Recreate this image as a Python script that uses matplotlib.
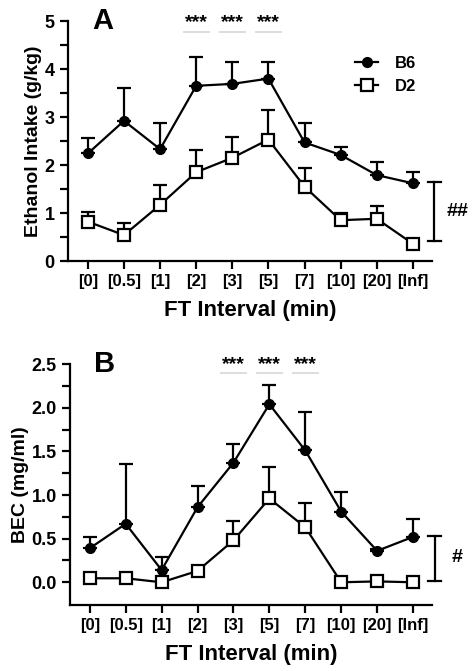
import numpy as np
import matplotlib.pyplot as plt
from matplotlib.lines import Line2D

plt.rcParams['font.family'] = ['Liberation Sans', 'DejaVu Sans']
plt.rcParams['font.weight'] = 'bold'

categories = ['[0]', '[0.5]', '[1]', '[2]', '[3]', '[5]', '[7]', '[10]', '[20]', '[Inf]']

# Panel A - ethanol intake (g/kg), mean and SEM (upper bar only)
intake_b6 = [2.24, 2.92, 2.33, 3.65, 3.69, 3.80, 2.47, 2.21, 1.79, 1.62]
intake_b6_err = [0.33, 0.68, 0.54, 0.59, 0.45, 0.35, 0.40, 0.17, 0.28, 0.23]
intake_d2 = [0.82, 0.54, 1.17, 1.85, 2.15, 2.53, 1.55, 0.85, 0.88, 0.36]
intake_d2_err = [0.21, 0.25, 0.41, 0.47, 0.44, 0.62, 0.39, 0.15, 0.27, 0.10]

# Panel B - blood ethanol concentration (mg/ml)
bec_b6 = [0.39, 0.67, 0.14, 0.86, 1.37, 2.04, 1.51, 0.81, 0.36, 0.52]
bec_b6_err = [0.13, 0.68, 0.15, 0.24, 0.21, 0.22, 0.44, 0.22, 0.02, 0.21]
bec_d2 = [0.046, 0.046, 0.0, 0.13, 0.48, 0.96, 0.63, 0.0, 0.01, 0.0]
bec_d2_err = [0.0, 0.0, 0.0, 0.04, 0.22, 0.36, 0.28, 0.0, 0.0, 0.0]

sig_a = ['[2]', '[3]', '[5]']
sig_b = ['[3]', '[5]', '[7]']

x = np.arange(len(categories))
LW = 1.6


def draw_panel(ax, b6, b6_err, d2, d2_err, ylim, major, minor, ylabel,
               letter, sig, star_y, line_y, brack, brack_txt, txt_y):
    ax.errorbar(x, b6, yerr=[np.zeros(len(b6)), b6_err], color='black', lw=LW,
                marker='o', ms=7, mfc='black', mec='black', capsize=5,
                elinewidth=LW, capthick=LW, zorder=3)
    ax.errorbar(x, d2, yerr=[np.zeros(len(d2)), d2_err], color='black', lw=LW,
                marker='s', ms=8, mfc='white', mec='black', mew=LW, capsize=5,
                elinewidth=LW, capthick=LW, zorder=4)
    ax.set_xlim(-0.55, 9.53)
    ax.set_ylim(*ylim)
    ax.set_xticks(x)
    ax.set_xticklabels(categories, fontsize=12, fontweight='bold')
    ax.set_yticks(major)
    ax.set_yticks(minor, minor=True)
    ax.tick_params(axis='both', which='major', length=6, width=LW)
    ax.tick_params(axis='y', which='major', labelsize=13)
    ax.tick_params(axis='y', which='minor', length=6, width=LW)
    for lab in ax.get_yticklabels():
        lab.set_fontweight('bold')
    ax.spines['top'].set_visible(False)
    ax.spines['right'].set_visible(False)
    ax.spines['left'].set_linewidth(LW)
    ax.spines['bottom'].set_linewidth(LW)
    ax.set_xlabel('FT Interval (min)', fontsize=16, fontweight='bold', labelpad=8)
    ax.set_ylabel(ylabel, fontsize=14, fontweight='bold', labelpad=2)
    ax.text(0.4, ylim[1], letter, fontsize=21, fontweight='bold', ha='center',
            va='center', clip_on=False)
    for s in sig:
        i = categories.index(s)
        ax.text(i, star_y, '***', fontsize=14, fontweight='bold', ha='center',
                va='center', clip_on=False)
        ax.plot([i - 0.35, i + 0.35], [line_y, line_y], color='#dddddd', lw=1.4,
                clip_on=False)
    # bracket for strain effect
    bx = 9.6
    ax.plot([bx, bx], brack, color='black', lw=LW, clip_on=False)
    for yy in brack:
        ax.plot([bx - 0.18, bx + 0.18], [yy, yy], color='black', lw=LW,
                clip_on=False)
    ax.text(bx + 0.63, txt_y, brack_txt, fontsize=14, fontweight='bold',
            ha='center', va='center', clip_on=False)


fig = plt.figure(figsize=(4.77, 6.71), dpi=100)
ax1 = fig.add_axes([0.1426, 0.611, 0.763, 0.3577])
ax2 = fig.add_axes([0.1468, 0.0984, 0.759, 0.359])

draw_panel(ax1, intake_b6, intake_b6_err, intake_d2, intake_d2_err, (0, 5),
           np.arange(0, 6, 1), np.arange(0.5, 5, 1), 'Ethanol Intake (g/kg)',
           'A', sig_a, 4.97, 4.77, (0.42, 1.64), '##', 1.03)
draw_panel(ax2, bec_b6, bec_b6_err, bec_d2, bec_d2_err, (-0.26, 2.5),
           np.arange(0, 2.51, 0.5), np.arange(0.25, 2.5, 0.5), 'BEC (mg/ml)',
           'B', sig_b, 2.50, 2.40, (0.01, 0.53), '#', 0.28)
ax2.set_yticklabels(['0.0', '0.5', '1.0', '1.5', '2.0', '2.5'], fontweight='bold',
                    fontsize=13)

handles = [
    Line2D([], [], color='black', lw=LW, marker='o', ms=7, mfc='black'),
    Line2D([], [], color='black', lw=LW, marker='s', ms=8, mfc='white', mew=LW),
]
leg = ax1.legend(handles, ['B6', 'D2'], loc='center left',
                 bbox_to_anchor=(0.77, 0.775), frameon=False,
                 fontsize=12, handlelength=1.4, handletextpad=1.0,
                 labelspacing=0.45, borderaxespad=0)
for t in leg.get_texts():
    t.set_fontweight('bold')

fig.savefig('out.png', dpi=100)
